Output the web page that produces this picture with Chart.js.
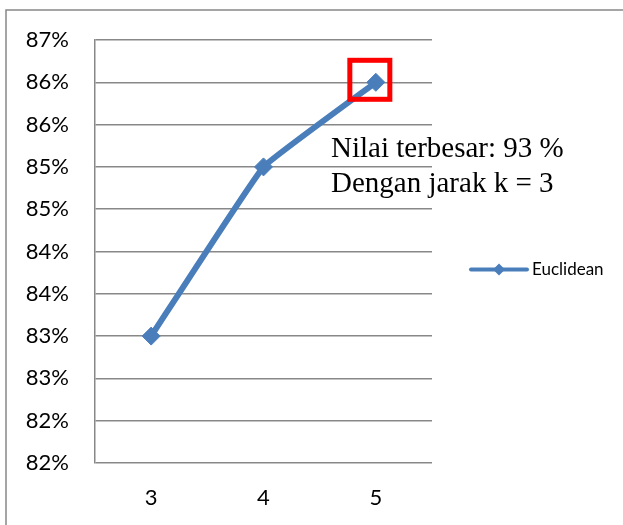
<!DOCTYPE html>
<html>
<head>
<meta charset="utf-8">
<script src="https://cdn.jsdelivr.net/npm/chart.js@4"></script>
<style>
    html, body { margin: 0; padding: 0; background: #fff; }
    canvas { display: block; }
</style>
</head>
<body>
<canvas id="chart" width="623" height="525"></canvas>
<script>
// Chart data
const categories = ['3', '4', '5'];
const euclideanValues = [83.5, 85.5, 86.5];
const yTickLabels = ['82%', '82%', '83%', '83%', '84%', '84%', '85%', '85%', '86%', '86%', '87%'];
const noteLines = ['Nilai terbesar: 93 %', 'Dengan jarak k = 3'];

const lineBlue = '#4a7ebb';
const gridGray = '#888888';

// Outer frame (only top and left edges are in view)
const framePlugin = {
    id: 'frame',
    beforeDraw(chart) {
        const ctx = chart.ctx;
        ctx.save();
        ctx.strokeStyle = gridGray;
        ctx.lineWidth = 1.5;
        ctx.beginPath();
        ctx.moveTo(6, chart.height);
        ctx.lineTo(6, 10);
        ctx.lineTo(chart.width, 10);
        ctx.stroke();
        ctx.restore();
    }
};

// Red box around the highest point + note text + legend
const notesPlugin = {
    id: 'notes',
    afterDraw(chart) {
        const ctx = chart.ctx;
        const area = chart.chartArea;
        const meta = chart.getDatasetMeta(0);
        const ds = chart.data.datasets[0];

        // box round the largest value
        let best = 0;
        ds.data.forEach((v, i) => { if (v > ds.data[best]) best = i; });
        const pt = meta.data[best];
        ctx.save();
        ctx.strokeStyle = '#ff0000';
        ctx.lineWidth = 5;
        ctx.strokeRect(pt.x - 26, pt.y - 22, 40, 39);
        ctx.restore();

        // note text
        ctx.save();
        ctx.fillStyle = '#000';
        ctx.font = '29px "Liberation Serif", "Times New Roman", serif';
        ctx.textAlign = 'left';
        ctx.textBaseline = 'alphabetic';
        noteLines.forEach((line, i) => {
            ctx.fillText(line, area.right - 101, 157 + i * 35);
        });
        ctx.restore();

        // legend
        const ly = (area.top + area.bottom) / 2 + 18;
        const lx = area.right + 39;
        ctx.save();
        ctx.strokeStyle = ds.borderColor;
        ctx.lineWidth = 4;
        ctx.lineCap = 'round';
        ctx.beginPath();
        ctx.moveTo(lx, ly);
        ctx.lineTo(lx + 56, ly);
        ctx.stroke();
        ctx.fillStyle = ds.borderColor;
        ctx.beginPath();
        ctx.moveTo(lx + 28, ly - 6);
        ctx.lineTo(lx + 34, ly);
        ctx.lineTo(lx + 28, ly + 6);
        ctx.lineTo(lx + 22, ly);
        ctx.closePath();
        ctx.fill();
        ctx.fillStyle = '#000';
        ctx.font = '17px Lato';
        ctx.textBaseline = 'middle';
        ctx.fillText(ds.label, lx + 61, ly);
        ctx.restore();
    }
};

const ctx = document.getElementById('chart').getContext('2d');
const chart = new Chart(ctx, {
    type: 'line',
    data: {
        labels: categories,
        datasets: [{
            label: 'Euclidean',
            data: euclideanValues,
            borderColor: lineBlue,
            backgroundColor: lineBlue,
            borderWidth: 6,
            tension: 0.08,
            pointStyle: 'rectRot',
            pointRadius: 9,
            pointBorderWidth: 1,
            pointHoverRadius: 9
        }]
    },
    options: {
        responsive: false,
        animation: false,
        events: [],
        layout: {
            padding: { top: 40, right: 191, bottom: 0, left: 0 }
        },
        plugins: {
            legend: { display: false },
            tooltip: { enabled: false }
        },
        scales: {
            x: {
                offset: true,
                grid: { display: false, drawTicks: false },
                border: { display: false },
                ticks: {
                    padding: 22,
                    color: '#000',
                    font: { family: 'Lato', size: 22 }
                },
                afterFit(scale) { scale.height = 62; }
            },
            y: {
                min: 82,
                max: 87,
                grid: { color: gridGray, lineWidth: 1.5, drawTicks: false },
                border: { display: true, color: gridGray, width: 1.5 },
                ticks: {
                    stepSize: 0.5,
                    padding: 26,
                    color: '#000',
                    font: { family: 'Lato', size: 22 },
                    callback: (value, index) => yTickLabels[index]
                },
                afterFit(scale) { scale.width = 95; }
            }
        }
    },
    plugins: [framePlugin, notesPlugin]
});
</script>
</body>
</html>
